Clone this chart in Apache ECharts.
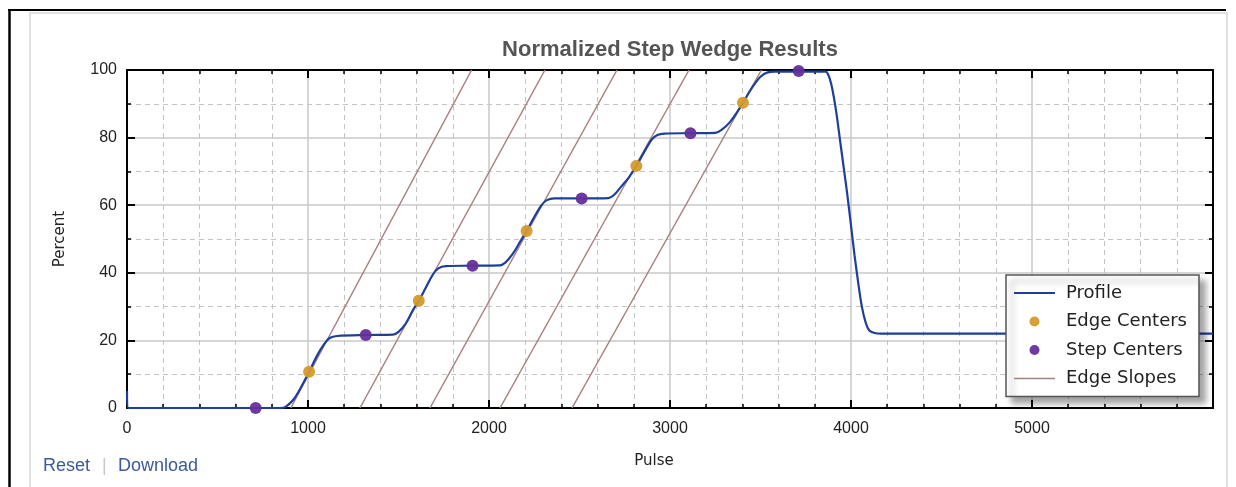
<!DOCTYPE html>
<html>
<head>
<meta charset="utf-8">
<script src="https://cdn.jsdelivr.net/npm/echarts@6/dist/echarts.min.js"></script>
<style>
html,body{margin:0;padding:0;background:#fff;}
#chart{width:1236px;height:487px;}
</style>
</head>
<body>
<div id="chart"></div>
<script>
// ---- data ----
const titleText = 'Normalized Step Wedge Results';
const xAxisName = 'Pulse';
const yAxisName = 'Percent';
const seriesNames = ['Profile', 'Edge Centers', 'Step Centers', 'Edge Slopes'];

const profileX = [0, 8, 850, 880, 920, 960, 1006, 1050, 1090, 1120, 1160, 1320, 1470,
  1500, 1540, 1580, 1612, 1650, 1690, 1720, 1760, 1909, 2060,
  2090, 2130, 2170, 2208, 2250, 2290, 2320, 2360, 2512, 2660,
  2690, 2730, 2770, 2814, 2860, 2900, 2930, 2970, 3113, 3250,
  3290, 3330, 3370, 3403, 3450, 3500, 3540, 3580, 3711, 3860,
  3875, 3890, 3905, 3920, 3940, 3960, 3980, 4000, 4020, 4040, 4060, 4080, 4100, 4130, 4170, 6000];
const profileY = [5, 0, 0, 0.5, 2.5, 6, 10.7, 15.5, 19, 20.7, 21.3, 21.6, 21.7,
  22.5, 25, 29, 31.7, 35.5, 39.5, 41.3, 42, 42.1, 42.2,
  43, 45.5, 49, 52.4, 56.5, 60, 61.5, 62, 62, 62.1,
  63, 65.5, 68, 71.6, 76, 79.5, 80.8, 81.2, 81.3, 81.4,
  82.5, 84.5, 87.5, 90.3, 94.5, 98, 99.3, 99.5, 99.5, 99.5,
  98.5, 96, 92, 87, 79, 71, 63, 54, 45, 37, 30, 25.5, 23, 22.2, 22, 22];

const edgeCenterX = [1006, 1612, 2208, 2814, 3403];
const edgeCenterY = [10.7, 31.7, 52.4, 71.6, 90.3];

const stepCenterX = [711, 1319, 1909, 2512, 3113, 3711];
const stepCenterY = [0, 21.6, 42.1, 62.0, 81.3, 99.7];

const slopeStartX = [905, 1287, 1674, 2061, 2459];
const slopeEndX = [1904, 2309, 2707, 3105, 3505];
const slopeStartY = [0, 0, 0, 0, 0];
const slopeEndY = [100, 100, 100, 100, 100];

const xTicks = {min: 0, max: 6000, interval: 1000, minorSplit: 5};
const yTicks = {min: 0, max: 100, interval: 20, minorSplit: 2};

const linkTexts = ['Reset', '|', 'Download'];

// ---- styles ----
const C_PROFILE = '#1d3f9c';
const C_EDGE = '#d49a2c';
const C_STEP = '#65309a';
const C_SLOPE = '#a88080';

const chart = echarts.init(document.getElementById('chart'), null, {renderer: 'canvas'});

const zip = (xs, ys) => xs.map((x, i) => [x, ys[i]]);

const slopeSeries = slopeStartX.map((x0, i) => ({
  name: seriesNames[3],
  type: 'line',
  data: [[x0, slopeStartY[i]], [slopeEndX[i], slopeEndY[i]]],
  symbol: 'none',
  lineStyle: {color: C_SLOPE, width: 1.5},
  itemStyle: {color: C_SLOPE},
  z: 2,
  silent: true,
  animation: false
}));

const tickFont = {fontFamily: 'Liberation Sans, Arial, sans-serif', fontSize: 16, color: '#222'};
const plainNum = v => String(v);

function makeX(pos, main) {
  return {
    type: 'value', position: pos,
    min: xTicks.min, max: xTicks.max, interval: xTicks.interval,
    name: main ? xAxisName : '', nameLocation: 'middle', nameGap: 46,
    nameTextStyle: {fontFamily: 'DejaVu Sans', fontSize: 15, color: '#222', padding: [0, 32, 0, 0]},
    axisLine: {show: true, onZero: false, lineStyle: {color: '#000', width: 2}},
    axisTick: {show: true, inside: true, length: 8, lineStyle: {color: '#000', width: 2}},
    minorTick: {show: true, splitNumber: xTicks.minorSplit, length: 4, lineStyle: {color: '#000', width: 1.5}},
    axisLabel: Object.assign({show: main, margin: 13, showMaxLabel: false, formatter: plainNum}, tickFont),
    splitLine: {show: main, lineStyle: {color: '#c8c8c8', width: 1.5}},
    minorSplitLine: {show: main, lineStyle: {color: '#c4c4c4', width: 1, type: [5, 4]}}
  };
}
function makeY(pos, main) {
  return {
    type: 'value', position: pos,
    min: yTicks.min, max: yTicks.max, interval: yTicks.interval,
    name: main ? yAxisName : '', nameLocation: 'middle', nameGap: 59,
    nameTextStyle: {fontFamily: 'DejaVu Sans', fontSize: 15, color: '#222'},
    axisLine: {show: true, onZero: false, lineStyle: {color: '#000', width: 2}},
    axisTick: {show: true, inside: true, length: 8, lineStyle: {color: '#000', width: 2}},
    minorTick: {show: true, splitNumber: yTicks.minorSplit, length: 4, lineStyle: {color: '#000', width: 1.5}},
    axisLabel: Object.assign({show: main, margin: 10, formatter: plainNum}, tickFont),
    splitLine: {show: main, lineStyle: {color: '#c8c8c8', width: 1.5}},
    minorSplitLine: {show: main, lineStyle: {color: '#c4c4c4', width: 1, type: [5, 4]}}
  };
}

const option = {
  animation: false,
  backgroundColor: '#fff',
  title: {
    text: titleText, left: 665, textAlign: 'center', top: 34,
    textStyle: {fontFamily: 'Liberation Sans, Arial, sans-serif', fontSize: 22, fontWeight: 'bold', color: '#555'}
  },
  grid: {left: 127, right: 23, top: 70, bottom: 79, containLabel: false},
  xAxis: [makeX('bottom', true), makeX('top', false)],
  yAxis: [makeY('left', true), makeY('right', false)],
  legend: {
    orient: 'vertical', left: 1006, top: 275,
    padding: [7, 12, 7, 8],
    itemGap: 6.5, itemWidth: 41, itemHeight: 10,
    backgroundColor: '#fff', borderColor: '#555', borderWidth: 1.5, borderRadius: 0,
    shadowColor: 'rgba(0,0,0,0.35)', shadowBlur: 6, shadowOffsetX: 6, shadowOffsetY: 6,
    textStyle: {fontFamily: 'DejaVu Sans', fontSize: 18, color: '#222', lineHeight: 22, padding: [0, 0, 0, 6]},
    selectedMode: false,
    data: [
      {name: seriesNames[0], icon: 'path://M0,0H40V2H0Z', itemStyle: {color: C_PROFILE}},
      {name: seriesNames[1], icon: 'circle', itemStyle: {color: C_EDGE}},
      {name: seriesNames[2], icon: 'circle', itemStyle: {color: C_STEP}},
      {name: seriesNames[3], icon: 'path://M0,0H40V1.3H0Z', itemStyle: {color: C_SLOPE}}
    ],
    z: 20
  },
  series: [
    ...slopeSeries,
    {
      name: seriesNames[0], type: 'line', data: zip(profileX, profileY),
      symbol: 'none', smooth: 0.35,
      lineStyle: {color: C_PROFILE, width: 2.2}, itemStyle: {color: C_PROFILE}, z: 3
    },
    {
      name: seriesNames[1], type: 'scatter', data: zip(edgeCenterX, edgeCenterY),
      symbol: 'circle', symbolSize: 12, itemStyle: {color: C_EDGE, opacity: 0.95}, z: 4, clip: false
    },
    {
      name: seriesNames[2], type: 'scatter', data: zip(stepCenterX, stepCenterY),
      symbol: 'circle', symbolSize: 12, itemStyle: {color: C_STEP, opacity: 0.95}, z: 4, clip: false
    }
  ],
  graphic: [
    {type: 'rect', z: -10, silent: true, shape: {x: 30, y: 13, width: 1197, height: 480},
      style: {fill: '#fff', stroke: '#d6d6d6', lineWidth: 1.5}},
    {type: 'line', z: 10, silent: true, shape: {x1: 8, y1: 10, x2: 1226, y2: 10}, style: {stroke: '#000', lineWidth: 2}},
    {type: 'line', z: 10, silent: true, shape: {x1: 9.5, y1: 9, x2: 9.5, y2: 487}, style: {stroke: '#000', lineWidth: 2.5}},
    {type: 'text', left: 43, top: 457, style: {text: linkTexts[0], fill: '#3a5a98', font: '18px "Liberation Sans", Arial, sans-serif'}},
    {type: 'text', left: 102, top: 457, style: {text: linkTexts[1], fill: '#c8c8c8', font: '18px "Liberation Sans", Arial, sans-serif'}},
    {type: 'text', left: 118, top: 457, style: {text: linkTexts[2], fill: '#3a5a98', font: '18px "Liberation Sans", Arial, sans-serif'}}
  ]
};
chart.setOption(option);
</script>
</body>
</html>
